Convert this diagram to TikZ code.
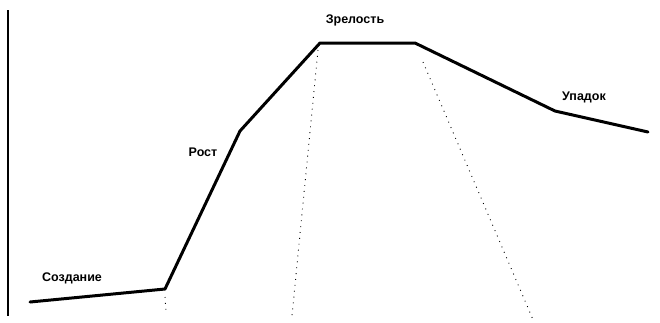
\documentclass[tikz,border=0pt]{standalone}
\usepackage{fontspec}
\setmainfont{Liberation Sans}
\begin{document}
\begin{tikzpicture}[x=1pt,y=-1pt,
  curve/.style={line width=3pt,line join=round,line cap=round},
  axisline/.style={line width=1.3pt},
  dotline/.style={line width=0.9pt,dash pattern=on 0.9pt off 5pt},
  lbl/.style={font=\bfseries\fontsize{12.5}{14}\selectfont,inner sep=0pt}]
\useasboundingbox (0,0) rectangle (660,322);
\coordinate (ax1) at (8,10);
\coordinate (ax2) at (8,316);
\draw[axisline] (ax1) -- (ax2);
\coordinate (p1) at (30,302);
\coordinate (p2) at (165,289);
\coordinate (p3) at (240,131);
\coordinate (p4) at (320,43);
\coordinate (p5) at (415,43);
\coordinate (p6) at (555,111);
\coordinate (p7) at (648,132);
\draw[curve] (p1) -- (p2) -- (p3) -- (p4) -- (p5) -- (p6) -- (p7);
\coordinate (d1a) at (165,297);
\coordinate (d1b) at (166,312);
\coordinate (d2a) at (318,50);
\coordinate (d2b) at (292,316);
\coordinate (d3a) at (423,62);
\coordinate (d3b) at (534,322);
\draw[dotline] (d1a) -- (d1b);
\draw[dotline] (d2a) -- (d2b);
\draw[dotline] (d3a) -- (d3b);
\node[lbl] (l1) at (72,278) {Создание};
\node[lbl] (l2) at (203,152) {Рост};
\node[lbl] (l3) at (355,20) {Зрелость};
\node[lbl] (l4) at (584,97) {Упадок};
\end{tikzpicture}
\end{document}
